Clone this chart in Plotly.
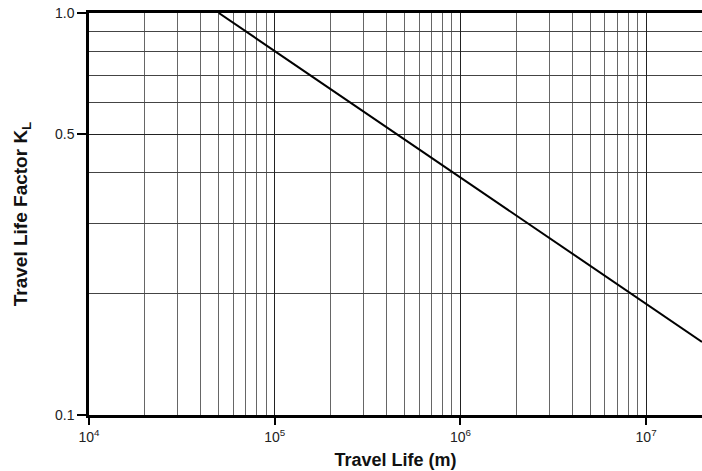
import plotly.graph_objects as go

# Data
travel_life = [5e4, 2e7]          # m
life_factor = [1.0, 0.152]        # K_L

x_tick_vals = [1e4, 1e5, 1e6, 1e7]
x_tick_text = ["10<sup>4</sup>", "10<sup>5</sup>", "10<sup>6</sup>", "10<sup>7</sup>"]
y_tick_vals = [0.1, 0.5, 1.0]
y_tick_text = ["0.1", "0.5", "1.0"]
x_minor = [m * 10 ** e for e in range(4, 8) for m in range(2, 10)]
y_minor = [0.2, 0.3, 0.4, 0.6, 0.7, 0.8, 0.9]

FONT = "Liberation Sans, Arial, sans-serif"

fig = go.Figure()
fig.add_trace(go.Scatter(x=travel_life, y=life_factor, mode="lines",
                         line=dict(color="black", width=2), showlegend=False,
                         hoverinfo="skip"))

fig.update_layout(
    width=702, height=471,
    margin=dict(l=89, r=0, t=13, b=56, autoexpand=False),
    paper_bgcolor="white", plot_bgcolor="white",
    font=dict(family=FONT, size=14, color="#222"),
)

fig.update_xaxes(
    type="log", range=[4, 7.301], automargin=False,
    tickvals=x_tick_vals, ticktext=x_tick_text,
    ticks="outside", ticklen=7, tickwidth=2, tickcolor="black",
    showline=True, linecolor="black", linewidth=2.5, mirror=True,
    showgrid=True, gridcolor="#222", gridwidth=1,
    minor=dict(tickvals=x_minor, showgrid=True, gridcolor="#666", gridwidth=1, ticks=""),
    tickfont=dict(family=FONT, size=14, color="#222"),
    title=dict(text="<b>Travel Life (m)</b>", font=dict(family=FONT, size=18, color="#111"), standoff=10),
    zeroline=False,
)
fig.update_yaxes(
    type="log", range=[-1, 0], automargin=False,
    tickvals=y_tick_vals, ticktext=y_tick_text,
    ticks="outside", ticklen=9, tickwidth=2, tickcolor="black",
    showline=True, linecolor="black", linewidth=2.5, mirror=False,
    showgrid=True, gridcolor="#222", gridwidth=1,
    minor=dict(tickvals=y_minor, showgrid=True, gridcolor="#444", gridwidth=1, ticks=""),
    tickfont=dict(family=FONT, size=14, color="#222"),
    title=dict(text="<b>Travel Life Factor K<sub>L</sub></b>", font=dict(family=FONT, size=19, color="#111"), standoff=23),
    zeroline=False,
)

fig.write_html("out.html", config={"displayModeBar": False})

# remove default page margin so the figure sits at the window origin
with open("out.html", "r", encoding="utf-8") as f:
    html = f.read()
html = html.replace("<head>", "<head><style>html,body{margin:0;padding:0;overflow:hidden;}</style>", 1)
with open("out.html", "w", encoding="utf-8") as f:
    f.write(html)
